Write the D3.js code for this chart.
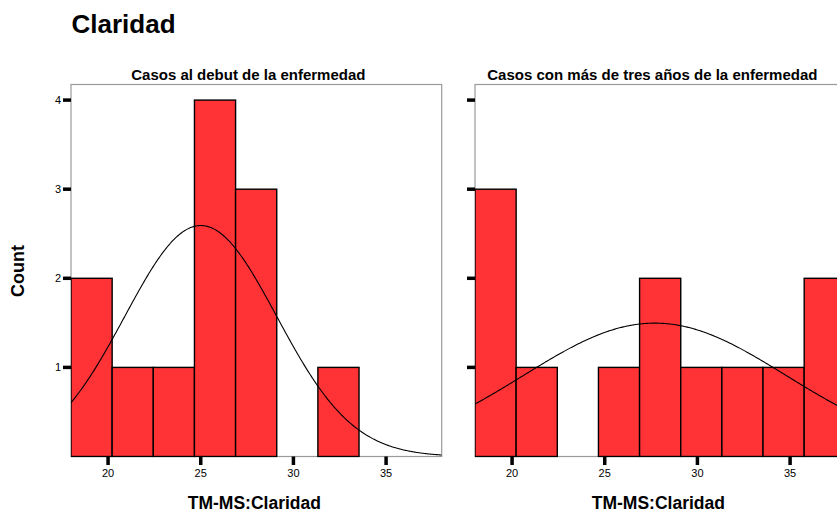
<!DOCTYPE html>
<html>
<head>
<meta charset="utf-8">
<script src="https://cdn.jsdelivr.net/npm/d3@7"></script>
<style>
  html, body { margin: 0; padding: 0; background: #fff; }
  svg { display: block; font-family: "Liberation Sans", Arial, sans-serif; }
</style>
</head>
<body>
<svg id="chart" width="837" height="513"></svg>
<script>
// Histogram bins (TM-MS:Claridad), shared by both panels
const binStart = 18;
const binWidth = 2.22;

// Counts per bin
const countsDebut = [2, 1, 1, 4, 3, 0, 1];
const countsTres = [3, 1, 0, 1, 2, 1, 1, 1, 2];

// Fitted normal curve parameters (mean, standard deviation, N)
const normalDebut = { mean: 25.0, sd: 4.1, n: 12 };
const normalTres = { mean: 27.7, sd: 7.1, n: 12 };

const panelTitles = ["Casos al debut de la enfermedad", "Casos con más de tres años de la enfermedad"];
const xTicks = [20, 25, 30, 35];
const yTicks = [1, 2, 3, 4];
const xLabel = "TM-MS:Claridad";
const yLabel = "Count";
const mainTitle = "Claridad";

const svg = d3.select("#chart");

const boxTop = 84.5, boxBottom = 456.5, boxWidth = 370.7;
const panels = [
  { left: 71, counts: countsDebut, normal: normalDebut, title: panelTitles[0], showY: true },
  { left: 475, counts: countsTres, normal: normalTres, title: panelTitles[1], showY: false }
];

const y = d3.scaleLinear().domain([0, 4.175]).range([boxBottom, boxTop]);

svg.append("text")
  .attr("x", 71.5).attr("y", 33)
  .attr("font-size", 26).attr("font-weight", "bold")
  .text(mainTitle);

svg.append("text")
  .attr("transform", "translate(24,271) rotate(-90)")
  .attr("text-anchor", "middle")
  .attr("font-size", 18).attr("font-weight", "bold")
  .text(yLabel);

panels.forEach((p, i) => {
  const x = d3.scaleLinear().domain([18, 38]).range([p.left, p.left + boxWidth]);
  const g = svg.append("g");
  const clipId = "clip" + i;
  svg.append("clipPath").attr("id", clipId)
    .append("rect")
    .attr("x", p.left).attr("y", boxTop - 1)
    .attr("width", boxWidth).attr("height", boxBottom - boxTop + 2);

  // frame
  g.append("rect")
    .attr("x", p.left).attr("y", boxTop)
    .attr("width", boxWidth).attr("height", boxBottom - boxTop)
    .attr("fill", "none").attr("stroke", "#9a9a9a").attr("stroke-width", 1.2);

  // bars
  const bins = p.counts.map((c, k) => ({ x0: binStart + k * binWidth, x1: binStart + (k + 1) * binWidth, c }));
  g.append("g").attr("clip-path", `url(#${clipId})`)
    .selectAll("rect").data(bins.filter(b => b.c > 0)).join("rect")
    .attr("x", b => x(b.x0)).attr("y", b => y(b.c))
    .attr("width", b => x(b.x1) - x(b.x0))
    .attr("height", b => y(0) - y(b.c))
    .attr("fill", "#ff3336").attr("stroke", "#000").attr("stroke-width", 1.4);

  // normal curve scaled to counts
  const nv = p.normal;
  const pdf = v => nv.n * binWidth / (nv.sd * Math.sqrt(2 * Math.PI)) * Math.exp(-0.5 * ((v - nv.mean) / nv.sd) ** 2);
  const xs = d3.range(18, 38.001, 0.05);
  g.append("path")
    .attr("clip-path", `url(#${clipId})`)
    .attr("d", d3.line().x(v => x(v)).y(v => y(pdf(v)))(xs))
    .attr("fill", "none").attr("stroke", "#000").attr("stroke-width", 1.1);

  // x axis ticks
  g.selectAll(".xt").data(xTicks).join("line")
    .attr("x1", d => x(d)).attr("x2", d => x(d))
    .attr("y1", boxBottom).attr("y2", boxBottom + 8.5)
    .attr("stroke", "#000").attr("stroke-width", 3.5);
  g.selectAll(".xl").data(xTicks).join("text")
    .attr("x", d => x(d)).attr("y", 477)
    .attr("text-anchor", "middle").attr("font-size", 11)
    .text(d => d);

  // y axis ticks
  g.selectAll(".yt").data(yTicks).join("line")
    .attr("x1", p.left - 8).attr("x2", p.left)
    .attr("y1", d => y(d)).attr("y2", d => y(d))
    .attr("stroke", "#000").attr("stroke-width", 3.5);
  if (p.showY) {
    g.selectAll(".yl").data(yTicks).join("text")
      .attr("x", p.left - 10).attr("y", d => y(d) + 4)
      .attr("text-anchor", "end").attr("font-size", 11)
      .text(d => d);
  }

  // titles
  g.append("text")
    .attr("x", p.left + boxWidth / 2 - 8).attr("y", 80)
    .attr("text-anchor", "middle").attr("font-size", 15).attr("font-weight", "bold")
    .text(p.title);
  g.append("text")
    .attr("x", p.left + boxWidth / 2 - 2).attr("y", 508.5)
    .attr("text-anchor", "middle").attr("font-size", 17.5).attr("font-weight", "bold")
    .text(xLabel);
});
</script>
</body>
</html>
